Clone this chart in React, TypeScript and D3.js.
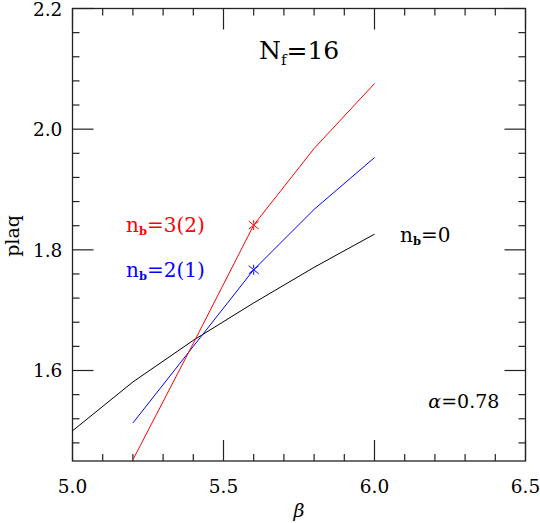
import * as d3 from "d3";

// n_b = 0 (black)
const beta0 = [5.0, 5.2, 5.4, 5.6, 5.8, 6.0];
const plaq0 = [1.5, 1.581, 1.65, 1.712, 1.771, 1.826];
// n_b = 2(1) (blue)
const beta2 = [5.2, 5.4, 5.6, 5.8, 6.0];
const plaq2 = [1.513, 1.64, 1.767, 1.867, 1.953];
// n_b = 3(2) (red)
const beta3 = [5.2, 5.4, 5.6, 5.8, 6.0];
const plaq3 = [1.452, 1.645, 1.841, 1.968, 2.0756];
// asterisk markers at beta = 5.6 (red, blue)
const markBeta = [5.6, 5.6];
const markPlaq = [1.841, 1.767];

const xMajor = [5.0, 5.5, 6.0, 6.5];
const xLabels = ["5.0", "5.5", "6.0", "6.5"];
const yMajor = [1.6, 1.8, 2.0, 2.2];
const yLabels = ["1.6", "1.8", "2.0", "2.2"];

const W = 540;
const H = 523;
const left = 72.5, right = 525.5, top = 8.5, bottom = 461;
const font = "'DejaVu Serif', serif";

export default function App() {
  const x = d3.scaleLinear().domain([5.0, 6.5]).range([left, right]);
  const y = d3.scaleLinear().domain([1.45, 2.2]).range([bottom, top]);

  const line = d3
    .line<[number, number]>()
    .x((d) => x(d[0]))
    .y((d) => y(d[1]));

  const series = [
    { b: beta0, p: plaq0, color: "#000" },
    { b: beta2, p: plaq2, color: "#0000ff" },
    { b: beta3, p: plaq3, color: "#ff0000" },
  ];

  const xMinor = d3.range(5.0, 6.5001, 0.1).filter((v) => !xMajor.some((m) => Math.abs(m - v) < 1e-6));
  const yMinor = d3.range(1.48, 2.2001, 0.04).filter((v) => !yMajor.some((m) => Math.abs(m - v) < 1e-6));

  // asterisk marker drawn from short strokes
  const star = (cx: number, cy: number, color: string, k: number) => {
    const r = 5;
    const segs = [
      [0, -r, 0, -1.5], [0, 1.5, 0, r],
      [-r, -r * 0.8, r, r * 0.8],
      [-r, r * 0.8, r, -r * 0.8],
    ];
    return (
      <g key={k} stroke={color} strokeWidth={1}>
        {segs.map((s, i) => (
          <line key={i} x1={cx + s[0]} y1={cy + s[1]} x2={cx + s[2]} y2={cy + s[3]} />
        ))}
      </g>
    );
  };

  const tc = "#222";

  return (
    <svg
      width={W}
      height={H}
      viewBox={`0 0 ${W} ${H}`}
      style={{ position: "absolute", left: 0, top: 0, background: "#fff" }}
      fontFamily={font}
    >
      <defs>
        <clipPath id="plot">
          <rect x={left} y={top} width={right - left} height={bottom - top} />
        </clipPath>
      </defs>

      {/* frame */}
      <rect x={left} y={top} width={right - left} height={bottom - top} fill="none" stroke={tc} strokeWidth={1.3} />

      {/* ticks on all four sides */}
      <g stroke={tc} strokeWidth={1.2}>
        {xMajor.map((v) => (
          <g key={"xM" + v}>
            <line x1={x(v)} x2={x(v)} y1={bottom} y2={bottom - 21} />
            <line x1={x(v)} x2={x(v)} y1={top} y2={top + 21} />
          </g>
        ))}
        {xMinor.map((v) => (
          <g key={"xm" + v}>
            <line x1={x(v)} x2={x(v)} y1={bottom} y2={bottom - 7} />
            <line x1={x(v)} x2={x(v)} y1={top} y2={top + 7} />
          </g>
        ))}
        {yMajor.map((v) => (
          <g key={"yM" + v}>
            <line x1={left} x2={left + 21} y1={y(v)} y2={y(v)} />
            <line x1={right} x2={right - 21} y1={y(v)} y2={y(v)} />
          </g>
        ))}
        {yMinor.map((v) => (
          <g key={"ym" + v}>
            <line x1={left} x2={left + 7} y1={y(v)} y2={y(v)} />
            <line x1={right} x2={right - 7} y1={y(v)} y2={y(v)} />
          </g>
        ))}
      </g>

      {/* tick labels */}
      <g fontSize={18.5} fill="#000">
        {xMajor.map((v, i) => (
          <text key={"xl" + v} x={x(v)} y={493.3} textAnchor="middle">
            {xLabels[i]}
          </text>
        ))}
        {yMajor.map((v, i) => (
          <text key={"yl" + v} x={62.3} y={Math.max(y(v) + 6.8, 16)} textAnchor="end">
            {yLabels[i]}
          </text>
        ))}
      </g>

      {/* axis titles */}
      <text x={299} y={517} fontSize={19} fontStyle="italic" textAnchor="middle">
        β
      </text>
      <text transform="translate(18.5,236) rotate(-90)" fontSize={19} textAnchor="middle">
        plaq
      </text>

      {/* curves */}
      <g clipPath="url(#plot)" fill="none" strokeWidth={1}>
        {series.map((s, i) => (
          <path key={i} d={line(s.b.map((b, j) => [b, s.p[j]] as [number, number])) || ""} stroke={s.color} />
        ))}
      </g>
      {star(x(markBeta[0]), y(markPlaq[0]), "#ff0000", 0)}
      {star(x(markBeta[1]), y(markPlaq[1]), "#0000ff", 1)}

      {/* annotations */}
      <text x={259} y={59.3} fontSize={25}>
        N<tspan fontSize={15} dy={5.5}>f</tspan>
        <tspan dy={-5.5}>=16</tspan>
      </text>
      <text x={126} y={232.3} fontSize={20} fill="#ff0000">
        n<tspan fontSize={11.5} fontWeight="bold" dy={3}>b</tspan>
        <tspan dy={-3}>=3(2)</tspan>
      </text>
      <text x={126} y={276.7} fontSize={20} fill="#0000ff">
        n<tspan fontSize={11.5} fontWeight="bold" dy={3}>b</tspan>
        <tspan dy={-3}>=2(1)</tspan>
      </text>
      <text x={400} y={241.6} fontSize={20} fill="#000">
        n<tspan fontSize={11.5} fontWeight="bold" dy={3}>b</tspan>
        <tspan dy={-3}>=0</tspan>
      </text>
      <text x={428.3} y={408.3} fontSize={19} fill="#000">
        <tspan fontStyle="italic">α</tspan>=0.78
      </text>
    </svg>
  );
}
